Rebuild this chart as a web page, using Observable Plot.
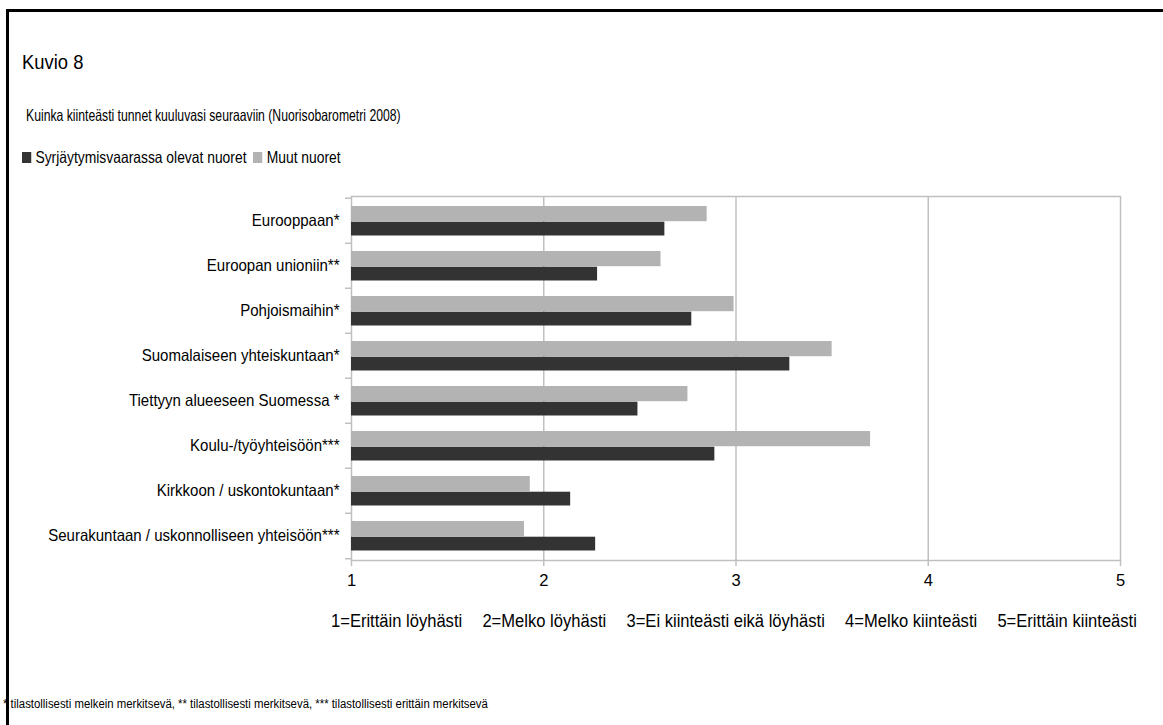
<!DOCTYPE html>
<html>
<head>
<meta charset="utf-8">
<script src="https://cdn.jsdelivr.net/npm/d3@7"></script>
<script src="https://cdn.jsdelivr.net/npm/@observablehq/plot@0.6"></script>
<style>
  html, body { margin: 0; padding: 0; background: #fff; width: 1163px; height: 725px; overflow: hidden; }
  body { position: relative; font-family: "Liberation Sans", Arial, sans-serif; color: #000; }
  #frame { position: absolute; left: 6px; top: 9px; width: 1300px; height: 900px; border: 3px solid #000; box-sizing: border-box; z-index: 10; pointer-events: none; }
  .abs { position: absolute; white-space: nowrap; transform-origin: left center; }
  #title { left: 22px; top: 51px; font-size: 20px; transform: scaleX(0.92); }
  #subtitle { left: 26px; top: 106px; font-size: 16.5px; transform: scaleX(0.74); }
  #legend { left: 22px; top: 148px; font-size: 16.5px; display: flex; align-items: center; transform: scaleX(0.84); }
  #legend .sw { display: inline-block; width: 11px; height: 11px; margin-right: 5px; }
  #legend .item { display: flex; align-items: center; margin-right: 8px; }
  #chart { position: absolute; left: 0; top: 180px; }
  #scale { left: 331px; top: 611px; font-size: 18px; display: flex; gap: 22px; transform: scaleX(0.92); }
  #note { left: 3px; top: 697px; font-size: 12.5px; transform: scaleX(0.91); }
</style>
</head>
<body>
<div id="frame"></div>
<div id="title" class="abs"></div>
<div id="subtitle" class="abs"></div>
<div id="legend" class="abs"></div>
<div id="chart"></div>
<div id="scale" class="abs"></div>
<div id="note" class="abs"></div>
<script>
const titleText = "Kuvio 8";
const subtitleText = "Kuinka kiinteästi tunnet kuuluvasi seuraaviin (Nuorisobarometri 2008)";
const seriesNames = ["Syrjäytymisvaarassa olevat nuoret", "Muut nuoret"];
const seriesColors = ["#333333", "#b3b3b3"];
const categories = [
  "Eurooppaan*",
  "Euroopan unioniin**",
  "Pohjoismaihin*",
  "Suomalaiseen yhteiskuntaan*",
  "Tiettyyn alueeseen Suomessa *",
  "Koulu-/työyhteisöön***",
  "Kirkkoon / uskontokuntaan*",
  "Seurakuntaan / uskonnolliseen yhteisöön***"
];
const riskValues  = [2.63, 2.28, 2.77, 3.28, 2.49, 2.89, 2.14, 2.27];
const otherValues = [2.85, 2.61, 2.99, 3.50, 2.75, 3.70, 1.93, 1.90];
const xTicks = [1, 2, 3, 4, 5];
const scaleLabels = ["1=Erittäin löyhästi", "2=Melko löyhästi", "3=Ei kiinteästi eikä löyhästi", "4=Melko kiinteästi", "5=Erittäin kiinteästi"];
const noteText = "* tilastollisesti melkein merkitsevä, ** tilastollisesti merkitsevä, *** tilastollisesti erittäin merkitsevä";

document.getElementById("title").textContent = titleText;
document.getElementById("subtitle").textContent = subtitleText;
document.getElementById("note").textContent = noteText;
const legend = document.getElementById("legend");
seriesNames.forEach((name, i) => {
  const item = document.createElement("span");
  item.className = "item";
  const sw = document.createElement("span");
  sw.className = "sw";
  sw.style.background = seriesColors[i];
  item.appendChild(sw);
  item.appendChild(document.createTextNode(name));
  legend.appendChild(item);
});
const scaleDiv = document.getElementById("scale");
scaleLabels.forEach(t => { const s = document.createElement("span"); s.textContent = t; scaleDiv.appendChild(s); });

const W = 1163, H = 410, mL = 351, mR = 43, mT = 16, mB = 30;
const plotH = H - mT - mB;
const band = plotH / categories.length;
const gridColor = "#c0c0c0";
const labelSize = 16.5, condense = 0.91;

const rows = [];
categories.forEach((c, i) => {
  rows.push({category: c, series: seriesNames[0], value: riskValues[i]});
  rows.push({category: c, series: seriesNames[1], value: otherValues[i]});
});

const chart = Plot.plot({
  width: W, height: H,
  marginLeft: mL, marginRight: mR, marginTop: mT, marginBottom: mB,
  style: {fontFamily: "'Liberation Sans', Arial, sans-serif", fontSize: labelSize + "px", color: "#000", background: "transparent"},
  x: {domain: [xTicks[0], xTicks[xTicks.length - 1]]},
  y: {domain: categories, paddingInner: 0, paddingOuter: 0},
  color: {domain: seriesNames, range: seriesColors},
  marks: [
    Plot.gridX(xTicks.slice(1, -1), {stroke: gridColor, strokeOpacity: 1, strokeWidth: 1.5}),
    Plot.frame({stroke: gridColor, strokeWidth: 1.5}),
    Plot.barX(rows.filter(d => d.series === seriesNames[1]), {
      x1: xTicks[0], x2: "value", y: "category", fill: d => d.series,
      insetTop: band * 0.176, insetBottom: band * 0.479
    }),
    Plot.barX(rows.filter(d => d.series === seriesNames[0]), {
      x1: xTicks[0], x2: "value", y: "category", fill: d => d.series,
      insetTop: band * 0.521, insetBottom: band * 0.165
    }),
    Plot.axisY({tickSize: 0, tickPadding: 12, fontSize: labelSize, label: null}),
    Plot.axisY({tickSize: 6, dy: -band / 2, tickFormat: () => "", stroke: gridColor, strokeWidth: 1.5, label: null}),
    Plot.axisY([categories[categories.length - 1]], {tickSize: 6, dy: band / 2, tickFormat: () => "", stroke: gridColor, strokeWidth: 1.5, label: null}),
    Plot.axisX(xTicks, {tickSize: 6, tickPadding: 8, fontSize: labelSize, stroke: gridColor, strokeWidth: 1.5, label: null, tickFormat: d => String(d)})
  ]
});
document.getElementById("chart").appendChild(chart);
// condense the axis labels horizontally, like the narrow typeface of the original
chart.querySelectorAll("text").forEach(t => {
  const len = t.getComputedTextLength();
  if (len > 12) {
    t.setAttribute("textLength", (len * condense).toFixed(1));
    t.setAttribute("lengthAdjust", "spacingAndGlyphs");
  }
});
</script>
</body>
</html>
